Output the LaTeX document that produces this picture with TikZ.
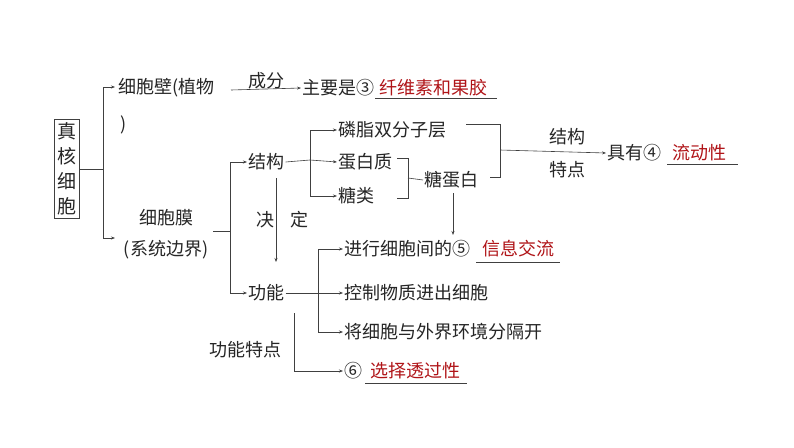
\documentclass[tikz,border=0pt]{standalone}
\usepackage{fontspec}
\setmainfont{Noto Sans CJK SC}
\usetikzlibrary{arrows.meta,calc}
\definecolor{ansred}{RGB}{176,20,24}
\begin{document}
\begin{tikzpicture}[x=1pt,y=-1pt,
  every node/.style={font=\fontsize{18}{21}\selectfont,inner sep=1pt,text=black!85},
  tip/.style={-{Stealth[length=4pt,width=3pt]}},
  ans/.style={text=ansred},
  line/.style={draw=black!75,line width=0.6pt}]
  \useasboundingbox (0,0) rectangle (794,447);
  \fill[white] (0,0) rectangle (794,447);
  \tikzstyle{every path}=[line]
  % root
  \node[draw,align=center,inner sep=3pt,font=\fontsize{19}{25}\selectfont] (root) at (67,169) {真\\核\\细\\胞};
  \draw (root.east) -- (103,169);
  \draw[tip] (103,169) |- (115,87);
  \draw[tip] (103,169) |- (115,238);
  % cell wall
  \node[anchor=west] (wall) at (117,88) {细胞壁(植物};
  \node[anchor=west] (wallb) at (119,125) {)};
  \node[anchor=west] (main) at (301,88) {主要是③};
  \node[anchor=west,ans] (pectin) at (378,88) {纤维素和果胶};
  \draw[tip] (231,90) -- (main.west) node[midway,above=-1pt] (comp) {成分};
  \draw (375,98) -- (497,98);
  % membrane
  \node (mem) at (166,218) {细胞膜};
  \node (memb) at (166,250) {(系统边界)};
  \draw (213,231) -- (230,231);
  \node[anchor=west] (struct) at (247,162) {结构};
  \node[anchor=west] (func) at (247,293) {功能};
  \draw[tip] (230,231) |- (struct.west);
  \draw[tip] (230,231) |- (func.west);
  \draw[tip] (276,178) -- (276,262);
  \node (jue) at (265,220) {决};
  \node (ding) at (299,220) {定};
  % structure
  \node[anchor=west] (lipid) at (337,130) {磷脂双分子层};
  \node[anchor=west] (prot) at (337,162) {蛋白质};
  \node[anchor=west] (sugar) at (337,196) {糖类};
  \draw (struct.east) -- (310,160);
  \draw[tip] (310,160) |- (lipid.west);
  \draw[tip] (310,160) -- (prot.west);
  \draw[tip] (310,160) |- (sugar.west);
  \node[anchor=west] (glyco) at (423,180) {糖蛋白};
  \draw (397,158) -- (408,158) -- (408,198) -- (397,198);
  \draw (408,178) -- (glyco.west);
  \draw[tip] (453,193) -- (453,235);
  \node (feat1) at (567,137) {结构};
  \node (feat2) at (567,170) {特点};
  \node[anchor=west] (fluid) at (606,153) {具有④};
  \node[anchor=west,ans] (fluidb) at (671,153) {流动性};
  \draw (466,124) -- (500,124) -- (500,177) -- (490,177);
  \draw[tip] (500,150) -- (fluid.west);
  \draw (667,164) -- (738,164);
  % function
  \node[anchor=west] (f1) at (343,249) {进行细胞间的⑤};
  \node[anchor=west,ans] (f1b) at (481,249) {信息交流};
  \node[anchor=west] (f2) at (343,293) {控制物质进出细胞};
  \node[anchor=west] (f3) at (343,332) {将细胞与外界环境分隔开};
  \draw (func.east) -- (318,293);
  \draw[tip] (318,293) |- (f1.west);
  \draw[tip] (318,293) -- (f2.west);
  \draw[tip] (318,293) |- (f3.west);
  \draw (476,262) -- (560,262);
  % selectivity
  \node (ff) at (245,350) {功能特点};
  \node[anchor=west] (sel) at (343,371) {⑥};
  \node[anchor=west,ans] (selb) at (369,371) {选择透过性};
  \draw[tip] (294,313) |- (sel.west);
  \draw (365,383) -- (467,383);
\end{tikzpicture}
\end{document}
